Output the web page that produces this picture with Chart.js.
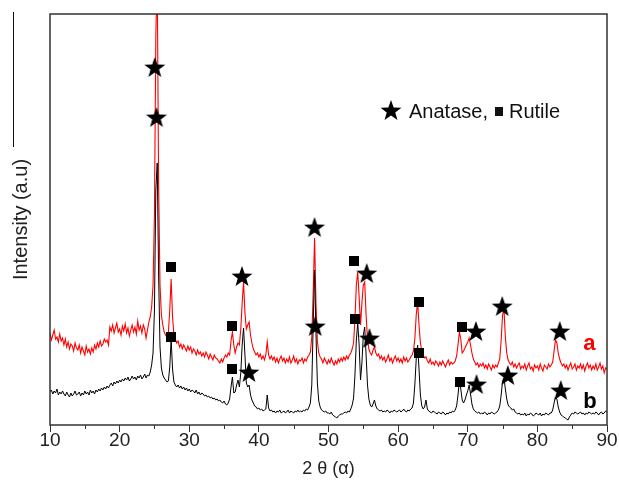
<!DOCTYPE html>
<html><head><meta charset="utf-8">
<style>html,body{margin:0;padding:0;background:#fff}#wrap{width:619px;height:488px}</style>
<script src="https://cdn.jsdelivr.net/npm/chart.js@4/dist/chart.umd.min.js"></script>
</head><body><div id="wrap"><canvas id="c" width="619" height="488"></canvas></div>
<script>
// 2θ sampling grid (degrees), 10 → 90 in 0.2° steps
const thetaStart = 10, thetaStep = 0.2, thetaCount = 401;
const twoTheta = Array.from({length: thetaCount}, (_, i) => +(thetaStart + thetaStep * i).toFixed(1));
const xTicks = [10, 20, 30, 40, 50, 60, 70, 80, 90];

// sample a (red), intensity in arbitrary units
const intensityA = [
92,85,90,95,86,88,83,91,84,87,
80,86,78,83,76,81,79,74,82,77,
75,80,72,78,74,70,79,73,76,71,
77,73,80,76,82,78,84,79,81,86,
83,85,80,98,94,100,92,97,102,93,
96,90,99,94,101,92,97,89,95,100,
93,98,91,104,95,99,92,100,96,87,
95,103,108,118,140,210,390,450,240,140,
110,100,93,90,88,92,115,146,108,90,
86,82,84,78,81,76,80,77,74,79,
75,78,72,76,74,70,75,71,73,69,
72,68,73,70,66,71,68,65,70,67,
66,64,62,66,63,67,70,68,72,70,
84,93,80,72,78,82,80,96,122,143,
112,96,100,103,90,82,76,73,70,72,
68,71,66,69,65,70,83,70,66,69,
65,68,63,67,62,66,69,64,67,62,
66,63,68,62,65,69,63,66,61,65,
64,67,62,66,64,68,70,73,88,132,
187,122,84,72,68,66,62,67,64,61,
65,62,67,63,60,64,61,66,63,67,
64,68,65,69,66,70,72,76,82,106,
140,153,128,100,122,140,143,110,86,76,
72,70,75,78,72,69,71,66,69,65,
68,63,66,70,64,67,62,66,69,64,
67,63,66,62,68,64,67,63,65,68,
70,74,86,110,123,100,82,74,70,67,
68,64,62,66,61,63,60,64,62,59,
63,60,64,61,58,62,65,60,63,61,
62,64,69,80,93,86,72,74,77,80,
83,87,80,72,66,63,60,62,58,61,
59,62,57,60,56,61,58,55,60,57,
60,58,62,66,85,110,116,88,72,65,
62,60,63,58,61,57,60,62,56,59,
57,61,55,59,62,56,58,54,60,57,
59,55,61,57,54,60,58,56,61,58,
60,63,74,85,82,72,66,62,59,61,
57,60,55,59,62,56,58,61,55,59,
57,61,56,60,54,59,62,57,60,55,
59,56,61,55,58,62,56,59,52,57,
56];

// sample b (black)
const intensityB = [
33,35,31,34,32,36,30,33,31,34,
31,29,33,30,28,32,29,31,34,30,
31,33,29,32,30,34,31,33,30,35,
32,34,31,35,33,36,34,37,35,38,
36,39,37,40,42,39,43,41,44,42,
45,43,46,44,47,45,48,44,46,49,
46,48,45,49,47,50,46,48,51,47,
50,49,53,60,72,115,235,262,150,78,
57,50,47,45,43,44,58,86,56,43,
40,38,40,37,39,36,38,35,37,34,
36,33,35,34,32,35,31,33,30,32,
31,29,30,28,29,27,28,26,27,25,
26,24,25,23,22,24,21,20,22,26,
38,48,32,33,40,45,38,52,80,97,
70,42,38,40,30,25,22,19,18,16,
17,15,16,14,15,16,30,17,14,15,
13,14,12,14,13,15,12,13,14,12,
13,15,12,14,13,12,14,13,15,13,
14,13,15,14,16,15,18,22,40,100,
155,92,42,24,18,15,14,13,14,12,
12,11,13,10,9,8,7,9,10,11,
11,12,13,12,14,13,16,20,27,50,
85,102,80,45,62,90,98,70,40,26,
20,18,21,25,19,16,15,14,15,13,
14,13,15,14,12,14,13,15,14,13,
14,15,13,14,16,14,13,15,14,16,
17,22,40,66,80,56,30,19,16,18,
25,16,14,13,12,14,13,12,11,13,
12,11,13,12,10,12,11,13,12,14,
13,15,19,30,45,36,25,22,25,30,
34,40,31,21,16,14,13,12,13,11,
12,11,13,12,10,12,11,13,12,11,
12,13,15,19,30,44,47,36,26,20,
18,17,15,16,13,12,11,12,10,11,
10,12,9,11,10,12,11,9,10,12,
11,10,12,9,11,10,12,11,10,12,
12,15,22,28,26,18,13,10,9,8,
7,6,5,8,10,12,11,13,12,11,
12,13,11,12,10,12,11,13,12,11,
12,11,13,12,10,12,13,11,12,14,
13];

// phase markers
const anataseAx = [25.05, 37.57, 47.99, 55.49, 71.17, 74.95, 83.22];
const anataseAy = [358, 149, 198, 152, 94, 119, 94];
const anataseBx = [25.29, 38.57, 48.09, 55.88, 71.26, 75.76, 83.36];
const anataseBy = [308, 53, 99, 87, 41, 50, 35];
const rutileAx = [27.35, 36.2, 53.6, 62.95, 69.17];
const rutileAy = [158, 99, 164, 123, 98];
const rutileBx = [27.45, 36.1, 53.8, 62.95, 68.88];
const rutileBy = [88, 56, 106, 72, 43];

const seriesLabels = ['a', 'b'];
const legendTexts = ['Anatase,', 'Rutile'];

const FONT = '"Liberation Sans", Arial, sans-serif';

function makeStar(R, r) {
  const s = Math.ceil(R * 2) + 2;
  const c = document.createElement('canvas');
  c.width = s; c.height = s;
  const g = c.getContext('2d');
  g.translate(s / 2, s / 2 + 0.095 * R);
  g.beginPath();
  for (let k = 0; k < 10; k++) {
    const ang = (-90 + k * 36) * Math.PI / 180;
    const rad = k % 2 ? r : R;
    const px = rad * Math.cos(ang), py = rad * Math.sin(ang);
    if (k === 0) g.moveTo(px, py); else g.lineTo(px, py);
  }
  g.closePath();
  g.fillStyle = '#000';
  g.fill();
  return c;
}
function makeSquare(s) {
  const c = document.createElement('canvas');
  c.width = s; c.height = s;
  const g = c.getContext('2d');
  g.fillStyle = '#000';
  g.fillRect(0, 0, s, s);
  return c;
}
const starImg = makeStar(11, 4.5);
const squareImg = makeSquare(10);

const pts = (xs, ys) => xs.map((x, i) => ({x, y: ys[i]}));

const decor = {
  id: 'decor',
  afterDraw(chart) {
    const {ctx, chartArea: a, scales} = chart;
    const xs = scales.x, ys = scales.y;
    ctx.save();
    // frame
    ctx.strokeStyle = '#333';
    ctx.lineWidth = 1.5;
    ctx.strokeRect(a.left, a.top, a.right - a.left, a.bottom - a.top);
    // minor ticks
    ctx.lineWidth = 1;
    ctx.beginPath();
    for (let v = 15; v < 90; v += 10) {
      const px = Math.round(xs.getPixelForValue(v)) + 0.5;
      ctx.moveTo(px, a.bottom);
      ctx.lineTo(px, a.bottom + 4);
    }
    ctx.stroke();
    // stray line at left
    ctx.beginPath();
    ctx.moveTo(13.5, 12);
    ctx.lineTo(13.5, 147);
    ctx.strokeStyle = '#111';
    ctx.stroke();
    // legend
    ctx.drawImage(starImg, 391 - starImg.width / 2, 110 - starImg.height / 2);
    ctx.fillStyle = '#111';
    ctx.font = '20px ' + FONT;
    ctx.textBaseline = 'alphabetic';
    ctx.textAlign = 'left';
    ctx.fillText(legendTexts[0], 409, 118);
    ctx.fillRect(495, 107, 8, 9);
    ctx.fillText(legendTexts[1], 509, 118);
    // series labels
    ctx.font = 'bold 22px ' + FONT;
    ctx.fillStyle = '#ff0000';
    ctx.fillText(seriesLabels[0], xs.getPixelForValue(86.6), ys.getPixelForValue(75));
    ctx.fillStyle = '#000';
    ctx.fillText(seriesLabels[1], xs.getPixelForValue(86.6), ys.getPixelForValue(17));
    ctx.restore();
  }
};

new Chart(document.getElementById('c'), {
  type: 'scatter',
  data: {
    datasets: [
      {label: 'anatase', data: pts(anataseAx, anataseAy).concat(pts(anataseBx, anataseBy)), pointStyle: starImg, showLine: false, order: 0},
      {label: 'rutile', data: pts(rutileAx, rutileAy).concat(pts(rutileBx, rutileBy)), pointStyle: squareImg, showLine: false, order: 0},
      {label: 'b', data: pts(twoTheta, intensityB), showLine: true, borderColor: '#000', borderWidth: 1, pointRadius: 0, order: 1},
      {label: 'a', data: pts(twoTheta, intensityA), showLine: true, borderColor: '#ff0000', borderWidth: 1.1, pointRadius: 0, order: 2}
    ]
  },
  options: {
    responsive: false,
    animation: false,
    devicePixelRatio: 1,
    layout: {padding: {top: 14, right: 12, left: 0, bottom: 0}},
    plugins: {legend: {display: false}, tooltip: {enabled: false}},
    scales: {
      x: {
        type: 'linear', min: 10, max: 90,
        afterBuildTicks: s => { s.ticks = xTicks.map(v => ({value: v})); },
        ticks: {font: {size: 19, family: FONT}, color: '#222', padding: -3, maxRotation: 0, autoSkip: false},
        grid: {display: true, drawOnChartArea: false, drawTicks: true, tickLength: 7, tickColor: '#333'},
        border: {display: false},
        title: {display: true, text: '2 θ (α)', font: {size: 18, family: FONT}, color: '#222', padding: {top: 0, bottom: 8}},
        afterFit: s => { s.height = 63; }
      },
      y: {
        min: 0, max: 411,
        ticks: {display: false},
        grid: {display: false},
        border: {display: false},
        title: {display: true, text: 'Intensity (a.u)', font: {size: 20, family: FONT}, color: '#222', padding: {top: 9, bottom: 0}},
        afterFit: s => { s.width = 50; }
      }
    }
  },
  plugins: [decor]
});
</script>
</body></html>
